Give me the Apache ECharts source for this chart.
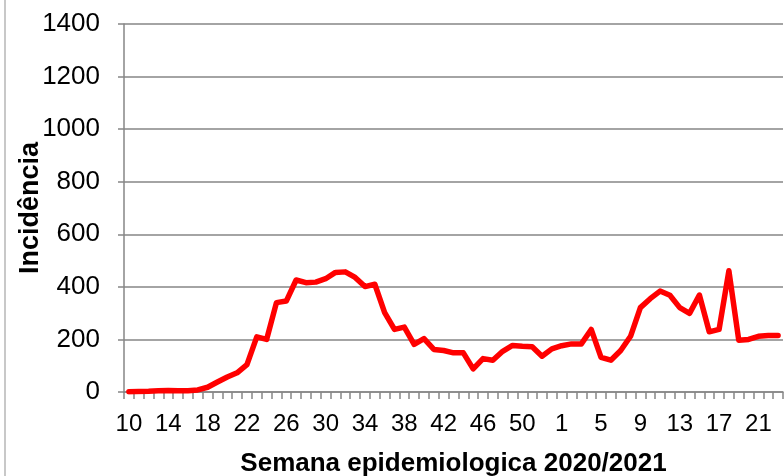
<!DOCTYPE html>
<html>
<head>
<meta charset="utf-8">
<script src="https://cdn.jsdelivr.net/npm/echarts@6/dist/echarts.min.js"></script>
<style>
  html, body { margin: 0; padding: 0; background: #fff; }
  #chart { width: 784px; height: 476px; }
</style>
</head>
<body>
<div id="chart"></div>
<script>
  // semanas epidemiologicas: 10..53 de 2020, 1..23 de 2021
  var weeks2020 = []
  for (var w = 10; w <= 53; w++) weeks2020.push(String(w))
  var weeks2021 = []
  for (var k = 1; k <= 23; k++) weeks2021.push(String(k))
  var categories = weeks2020.concat(weeks2021)

  // incidencia
  var incid2020 = [1, 2, 3, 5, 6, 5, 5, 8, 18, 38, 57, 73, 104, 210, 200, 340, 346, 426, 416, 418,
    431, 455, 457, 436, 401, 410, 302, 238, 247, 181, 203, 162, 158, 149, 149, 88, 127, 121, 155, 177,
    174, 172, 136, 164]
  var incid2021 = [176, 183, 183, 238, 132, 121, 158, 212, 321, 355, 384, 368, 321, 299, 369, 229, 238,
    461, 197, 200, 212, 215, 215]
  var incidencia = incid2020.concat(incid2021)

  var yTicks = [0, 200, 400, 600, 800, 1000, 1200, 1400]

  var chart = echarts.init(document.getElementById('chart'))
  chart.setOption({
    animation: false,
    textStyle: { fontFamily: 'Liberation Sans, Arial, sans-serif' },
    graphic: [{
      type: 'line',
      shape: { x1: 5, y1: 0, x2: 5, y2: 476 },
      style: { stroke: '#c8c8c8', lineWidth: 2 }
    }],
    grid: { left: 124, right: 1, top: 24, bottom: 84, outerBoundsMode: 'none', containLabel: false },
    xAxis: {
      type: 'category',
      data: categories,
      boundaryGap: true,
      name: 'Semana epidemiologica 2020/2021',
      nameLocation: 'middle',
      nameGap: 59,
      nameMoveOverlap: false,
      nameTextStyle: { fontSize: 26, fontWeight: 'bold', color: '#000' },
      axisLine: { lineStyle: { color: '#868686', width: 1.5 } },
      axisTick: { show: true, interval: 0, length: 7, lineStyle: { color: '#868686', width: 1.5 } },
      axisLabel: { interval: 3, fontSize: 24, color: '#000', margin: 20 }
    },
    yAxis: {
      type: 'value',
      min: yTicks[0],
      max: yTicks[yTicks.length - 1],
      interval: 200,
      name: 'Incidência',
      nameLocation: 'middle',
      nameGap: 80,
      nameMoveOverlap: false,
      nameTextStyle: { fontSize: 27, fontWeight: 'bold', color: '#000' },
      axisLine: { show: true, lineStyle: { color: '#868686', width: 1.5 } },
      axisTick: { show: true, length: 6, lineStyle: { color: '#868686', width: 1.5 } },
      axisLabel: { fontSize: 26, color: '#000', margin: 24, formatter: function (v) { return String(v) } },
      splitLine: { lineStyle: { color: '#868686', width: 1.5 } }
    },
    series: [{
      type: 'line',
      data: incidencia,
      symbol: 'none',
      smooth: false,
      lineStyle: { color: '#ff0000', width: 5.5, join: 'round', cap: 'round' }
    }]
  })
</script>
</body>
</html>
